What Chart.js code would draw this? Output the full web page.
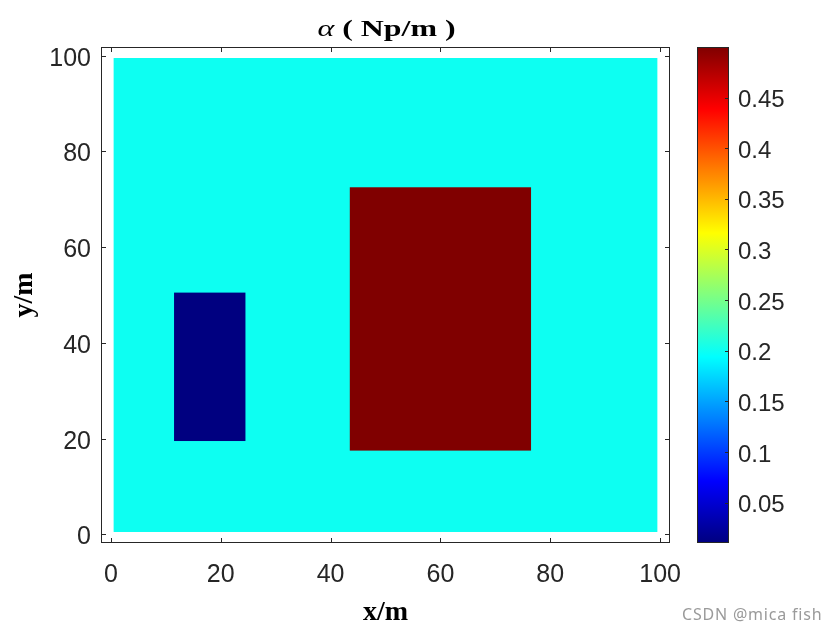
<!DOCTYPE html>
<html><head><meta charset="utf-8">
<script src="https://cdn.jsdelivr.net/npm/chart.js@4.4.0/dist/chart.umd.min.js"></script>
<style>
html,body{margin:0;padding:0;background:#fff;}
#wrap{position:relative;width:840px;height:630px;}
canvas{display:block;}
#wm{position:absolute;left:682px;top:603px;font:16px "Noto Sans",Arial,sans-serif;letter-spacing:0.8px;color:#9a9a9a;white-space:nowrap;}
</style>
</head><body>
<div id="wrap"><canvas id="c" width="840" height="630"></canvas><div id="wm">CSDN @mica fish</div></div>
<script>
// ---- data ----
const titleSymbol = 'α';
const titleUnit = ' ( Np/m )';
const xLabel = 'x/m';
const yLabel = 'y/m';
const xTicks = [0, 20, 40, 60, 80, 100];
const yTicks = [0, 20, 40, 60, 80, 100];
const cbTicks = [0.05, 0.1, 0.15, 0.2, 0.25, 0.3, 0.35, 0.4, 0.45];
const regionNames = ['background', 'low block', 'high block'];
const regionXStart = [0.5, 11.5, 43.5];
const regionXEnd   = [99.5, 24.5, 76.5];
const regionYStart = [0.5, 19.5, 17.5];
const regionYEnd   = [99.5, 50.5, 72.5];
const regionAlpha  = [0.2, 0.01, 0.5];
const alphaMin = 0.01, alphaMax = 0.5;
const axisMin = -1.8, axisMax = 101.8;

function jet(t){
  const c = v => Math.round(255*Math.max(0, Math.min(1, v)));
  return 'rgb(' + c(1.5-Math.abs(4*t-3)) + ',' + c(1.5-Math.abs(4*t-2)) + ',' + c(1.5-Math.abs(4*t-1)) + ')';
}
const INK = '#262626';

const fieldPlugin = {
  id: 'field',
  beforeDraw(chart){
    ['y', 'cb'].forEach(id => {
      const s = chart.scales[id];
      s.getLabelItems(chart.chartArea).forEach(it => {
        if (!it._shifted) { it.options.translation[1] += 3; it._shifted = true; }
      });
    });
  },
  beforeDatasetsDraw(chart){
    const {ctx, chartArea: a, scales: {x, y}} = chart;
    ctx.save();
    ctx.beginPath(); ctx.rect(a.left, a.top, a.right-a.left, a.bottom-a.top); ctx.clip();
    for (let i = 0; i < regionAlpha.length; i++){
      const x0 = x.getPixelForValue(regionXStart[i]), x1 = x.getPixelForValue(regionXEnd[i]);
      const y0 = y.getPixelForValue(regionYEnd[i]), y1 = y.getPixelForValue(regionYStart[i]);
      ctx.fillStyle = jet((regionAlpha[i]-alphaMin)/(alphaMax-alphaMin));
      ctx.fillRect(x0, y0, x1-x0, y1-y0);
    }
    ctx.restore();
  },
  afterDraw(chart){
    const {ctx, chartArea: a, scales: {x, y, cb}} = chart;
    ctx.save();
    ctx.strokeStyle = INK; ctx.lineWidth = 1;
    ctx.strokeRect(a.left+0.5, a.top+0.5, a.right-a.left-1, a.bottom-a.top-1);
    const TL = 5;
    ctx.beginPath();
    xTicks.forEach(v => {
      const p = Math.round(x.getPixelForValue(v)) + 0.5;
      ctx.moveTo(p, a.bottom); ctx.lineTo(p, a.bottom-TL);
      ctx.moveTo(p, a.top); ctx.lineTo(p, a.top+TL);
    });
    yTicks.forEach(v => {
      const p = Math.round(y.getPixelForValue(v)) + 0.5;
      ctx.moveTo(a.left, p); ctx.lineTo(a.left+TL, p);
      ctx.moveTo(a.right, p); ctx.lineTo(a.right-TL, p);
    });
    ctx.stroke();
    // colorbar
    const bl = a.right + 27, br = a.right + 59;
    const bt = cb.getPixelForValue(alphaMax), bb = cb.getPixelForValue(alphaMin);
    const g = ctx.createLinearGradient(0, bb, 0, bt);
    for (let k = 0; k <= 64; k++) g.addColorStop(k/64, jet(k/64));
    ctx.fillStyle = g;
    ctx.fillRect(bl, bt, br-bl, bb-bt);
    ctx.strokeRect(bl+0.5, bt+0.5, br-bl-1, bb-bt-1);
    ctx.beginPath();
    cbTicks.forEach(v => {
      const p = Math.round(cb.getPixelForValue(v)) + 0.5;
      ctx.moveTo(br, p); ctx.lineTo(br-4, p);
    });
    ctx.stroke();
    // title
    const cx = (a.left + a.right)/2 + 1, base = 36;
    const fSym = 'italic 24px "Liberation Serif", serif';
    const fTxt = 'bold 24px "Liberation Serif", serif';
    ctx.font = fSym; const w1 = ctx.measureText(titleSymbol).width;
    ctx.font = fTxt; const w2 = ctx.measureText(titleUnit).width;
    const sx = 1.33;
    ctx.translate(cx, base); ctx.scale(sx, 1);
    ctx.fillStyle = '#000'; ctx.textBaseline = 'alphabetic'; ctx.textAlign = 'left';
    const start = -(w1+w2)/2;
    ctx.font = fSym; ctx.fillText(titleSymbol, start, 0);
    ctx.font = fTxt; ctx.fillText(titleUnit, start + w1, 0);
    ctx.restore();
  }
};

const tickFont = {family: '"Liberation Sans", Arial, sans-serif', size: 25};
const labelFont = {family: '"Liberation Serif", serif', size: 28, weight: 'bold'};
const noPad = s => { s.paddingTop = 0; s.paddingBottom = 0; s.paddingLeft = 0; s.paddingRight = 0; };

new Chart(document.getElementById('c'), {
  type: 'scatter',
  data: {datasets: [{label: 'alpha', data: [], showLine: false}]},
  options: {
    responsive: false, animation: false, devicePixelRatio: 1,
    layout: {padding: {top: 47, left: 0, right: 0, bottom: 0}},
    plugins: {legend: {display: false}, tooltip: {enabled: false}, title: {display: false}},
    scales: {
      x: {
        type: 'linear', position: 'bottom', min: axisMin, max: axisMax,
        grid: {display: false, drawTicks: false}, border: {display: false},
        afterBuildTicks: s => { s.ticks = xTicks.map(v => ({value: v})); },
        afterFit: s => { s.height = 87; noPad(s); },
        ticks: {font: tickFont, color: INK, padding: 17, maxRotation: 0, autoSkip: false},
        title: {display: true, text: xLabel, font: labelFont, color: '#000', padding: {top: 0, bottom: 0}}
      },
      y: {
        type: 'linear', position: 'left', min: axisMin, max: axisMax,
        grid: {display: false, drawTicks: false}, border: {display: false},
        afterBuildTicks: s => { s.ticks = yTicks.map(v => ({value: v})); },
        afterFit: s => { s.width = 101; noPad(s); },
        ticks: {font: tickFont, color: INK, padding: 10, autoSkip: false},
        title: {display: true, text: yLabel, font: labelFont, color: '#000', padding: {top: 8, bottom: 0}}
      },
      cb: {
        type: 'linear', position: 'right', min: alphaMin, max: alphaMax,
        grid: {display: false, drawTicks: false}, border: {display: false},
        afterBuildTicks: s => { s.ticks = cbTicks.map(v => ({value: v})); },
        afterFit: s => { s.width = 170; noPad(s); },
        ticks: {font: {family: '"Liberation Sans", Arial, sans-serif', size: 24}, color: INK, padding: 68, autoSkip: false,
                callback: v => String(Math.round(v*100)/100)}
      }
    }
  },
  plugins: [fieldPlugin]
});
</script>
</body></html>
